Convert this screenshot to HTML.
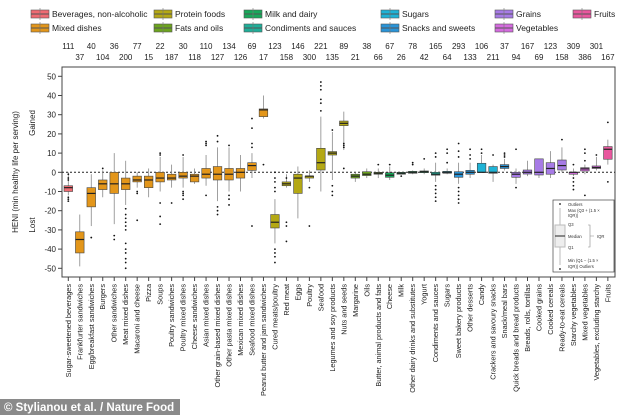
<!DOCTYPE html>
<html><head><meta charset="utf-8"><style>
body{margin:0;background:#fff;width:634px;height:415px;overflow:hidden;font-family:"Liberation Sans",sans-serif}
svg text{font-family:"Liberation Sans",sans-serif}
</style></head><body>
<svg id="s" width="634" height="415" xmlns="http://www.w3.org/2000/svg">
<rect x="62" y="67" width="553" height="210" fill="none" stroke="#444" stroke-width="1"/>
<line x1="62" x2="615" y1="172.3" y2="172.3" stroke="#222" stroke-dasharray="2,2" stroke-width="1"/>
<text transform="translate(18,172) rotate(-90)" font-size="8" text-anchor="middle" fill="#222">HENI (min healthy life per serving)</text>
<text transform="translate(35,123) rotate(-90)" font-size="8" text-anchor="middle" fill="#222">Gained</text>
<text transform="translate(35,225) rotate(-90)" font-size="8" text-anchor="middle" fill="#222">Lost</text>
<rect x="0" y="399" width="180" height="16" fill="#8a8a8a"/>
<text x="4" y="411" font-size="11.5" font-weight="bold" fill="#fff">© Stylianou et al. / Nature Food</text>
<g id="g"></g>
</svg>
<script>
const S=document.getElementById('g');let h='';
const Y=v=>172.3-1.92*v;
for(let v=-50;v<=50;v+=10){h+=`<line x1="58" x2="62" y1="${Y(v)}" y2="${Y(v)}" stroke="#444"/><text x="56" y="${Y(v)+3}" font-size="8" text-anchor="end" fill="#222">${v}</text>`;}
const C={b:'#ef6b72',m:'#e3961a',p:'#b4a814',f:'#6ca41e',d:'#18a85a',c:'#1fae99',s:'#1fb3d6',n:'#2a94d8',g:'#a77be6',v:'#d56bdf',fr:'#e9579e'};
const L=[['#ef6b72','Beverages, non-alcoholic',31,14],['#e3961a','Mixed dishes',31,28],['#b4a814','Protein foods',154,14],['#6ca41e','Fats and oils',154,28],['#18a85a','Milk and dairy',244,14],['#1fae99','Condiments and sauces',244,28],['#1fb3d6','Sugars',381,14],['#2a94d8','Snacks and sweets',381,28],['#a77be6','Grains',495,14],['#d56bdf','Vegetables',495,28],['#e9579e','Fruits',573,14]];
L.forEach(l=>{h+=`<rect x="${l[2]}" y="${l[3]-4}" width="18" height="8" fill="${l[0]}" stroke="#555" stroke-width=".6"/><line x1="${l[2]}" x2="${l[2]+18}" y1="${l[3]}" y2="${l[3]}" stroke="#555"/><line x1="${l[2]+9}" x2="${l[2]+9}" y1="${l[3]-6}" y2="${l[3]+6}" stroke="#777" stroke-width=".6"/><text x="${l[2]+21}" y="${l[3]+3}" font-size="8.5" fill="#222">${l[1]}</text>`;});
// name,color,q1,med,q3,wlo,whi,outliers
const D=[
['Sugar-sweetened beverages','b',-10,-8,-7,-12,0,[-1,-3,-4,-13,-14,-15],111],
['Frankfurter sandwiches','m',-42,-35,-31,-49,-22,[],37],
['Egg/breakfast sandwiches','m',-18,-11,-8,-28,-1,[-34],40],
['Burgers','m',-9,-6,-4,-13,1,[2],104],
['Other sandwiches','m',-11,-6,0,-27,10,[-33,-35],36],
['Meat mixed dishes','m',-9,-6,-3,-17,6,[-19,-22,-24,-26,-28,-30,-37,-40,-42,-45,-47,-50],200],
['Macaroni and cheese','m',-5,-4,-2,-8,0,[-10,-11,-25],77],
['Pizza','m',-8,-4,-2,-13,2,[],15],
['Soups','m',-5,-3,0,-10,8,[9,10,-16,-23,-27],22],
['Poultry sandwiches','m',-4,-3,-1,-8,4,[-16],187],
['Poultry mixed dishes','m',-3,-2,0,-8,8,[9,-10,-11,-12,-14],30],
['Cheese sandwiches','m',-5,-2,-1,-6,2,[],118],
['Asian mixed dishes','m',-3,-1,2,-7,9,[14,15,16,-12],110],
['Other grain-based mixed dishes','m',-4,-1,3,-15,13,[16,19,-18,-20,-22],127],
['Other pasta mixed dishes','m',-4,-1,2,-10,13,[14,-12,-14,-17],134],
['Mexican mixed dishes','m',-3,0,2,-10,9,[],126],
['Seafood mixed dishes','m',1,3.5,5,-3,10,[13,15,23,28,-28],69],
['Peanut butter and jam sandwiches','m',29,32.5,33,28,40,[4],17],
['Cured meats/poultry','p',-29,-26,-22,-37,-14,[0,-3,-5,-8,-10,-40,-42,-44,-47],123],
['Red meat','p',-7,-6,-5,-8,-1,[-3,-26,-28,-36],158],
['Eggs','p',-11,-3,-1,-24,3,[],146],
['Poultry','p',-3,-2,-2,-5,1,[-8,-28],300],
['Seafood','p',1.2,5,12.5,-10,29,[32,36,38,43,45,47],221],
['Legumes and soy products','p',9,10,10.8,-4,21,[22,-7,-10,-12],135],
['Nuts and seeds','p',24.3,25.5,26.7,11.6,31.6,[13,14,15,2],89],
['Margarine','f',-3,-2,-1,-5,0,[],21],
['Oils','f',-1.7,-1,0.3,-3,2,[],38],
['Butter, animal products and fats','f',-1,-0.5,0,-3,2,[4],66],
['Cheese','d',-2.6,-1.5,-0.2,-4,3,[4],67],
['Milk','d',-1,-0.5,0,-1,0,[-2],26],
['Other dairy drinks and substitutes','d',-0.5,0,0.5,-1,1,[4,5],78],
['Yogurt','d',-0.2,0.3,0.7,-1,2,[7],42],
['Condiments and sauces','c',-1.5,-1,0,-5,5,[8,10,-7,-9,-11,-13,-15],165],
['Sugars','s',-0.5,0,0.5,-1,2,[5,10,12],64],
['Sweet bakery products','n',-2.6,-1,0.3,-6,5,[8,11,15,-8,-10,-12,-14,-16],293],
['Other desserts','n',-1,0,1,-3,5,[7,9,12],133],
['Candy','s',0,0,4.7,0,9,[10,12],106],
['Crackers and savoury snacks','s',-0.5,0,3,-5,4,[9],211],
['Snack/meal bars','n',2,3,4,1,7,[8,9,10],37],
['Quick breads and bread products','g',-2.6,-1,0,-6,2,[12,-8],94],
['Breads, rolls, tortillas','g',-0.9,0,1.2,-2,6,[],167],
['Cooked grains','g',-1.4,0,7,-3,7,[],69],
['Cooked cereals','g',-1,2,5,-3,11,[],123],
['Ready-to-eat cereals','g',1.2,3.5,6.4,0,13,[17],158],
['Starchy vegetables','v',-1,0,0,-2,2,[4,-3,-5,-7,-9],309],
['Mixed vegetables','v',0.7,1.8,2.4,-1,4,[6,10,12,-12],386],
['Vegetables, excluding starchy','v',2,2.5,3.3,1,8,[9],301],
['Fruits','fr',6.8,12,13.4,4,17,[26,-5],167]];
D.forEach((d,i)=>{const x=68.3+11.48*i,c=C[d[1]],w=4.3;
h+=`<line x1="${x}" x2="${x}" y1="${Y(d[6])}" y2="${Y(d[5])}" stroke="#888" stroke-width="0.8"/>`;
h+=`<rect x="${x-w}" y="${Y(d[4])}" width="${2*w}" height="${Math.max(1.5,Y(d[2])-Y(d[4]))}" fill="${c}" stroke="#444" stroke-width="0.6"/>`;
h+=`<line x1="${x-w}" x2="${x+w}" y1="${Y(d[3])}" y2="${Y(d[3])}" stroke="#222" stroke-width="1.2"/>`;
d[7].forEach(o=>h+=`<circle cx="${x}" cy="${Y(o)}" r="0.9" fill="#111"/>`);
h+=`<line x1="${x}" x2="${x}" y1="277" y2="281" stroke="#444"/>`;
h+=`<text transform="translate(${x+2.5},284) rotate(-90)" font-size="7.3" text-anchor="end" fill="#222">${d[0]}</text>`;
h+=`<text x="${x}" y="${i%2?60:49}" font-size="8" text-anchor="middle" fill="#222">${d[8]}</text>`;});
// inset legend
h+=`<rect x="553" y="200" width="61" height="72" fill="#fff" stroke="#444" stroke-width=".7"/>
<rect x="555" y="225" width="10" height="22" fill="#eee" stroke="#bbb"/><line x1="555" x2="565" y1="236" y2="236" stroke="#444" stroke-width="1.2"/>
<line x1="560" x2="560" y1="208" y2="225" stroke="#bbb"/><line x1="560" x2="560" y1="247" y2="265" stroke="#bbb"/>
<circle cx="560" cy="204" r="0.9" fill="#111"/><circle cx="560" cy="269" r="0.9" fill="#111"/>
<g font-size="4.2" fill="#333"><text x="568" y="206">Outliers</text><text x="568" y="212">Max (Q3 + (1.5 ×</text><text x="568" y="217">IQR))</text><text x="568" y="226">Q3</text><text x="568" y="238">Median</text><text x="568" y="249">Q1</text><text x="568" y="262">Min (Q1 − (1.5 ×</text><text x="568" y="268">IQR)) Outliers</text><text x="597" y="238">IQR</text></g>
<path d="M588 225 h2 v22 h-2 M590 236 h4" stroke="#888" fill="none" stroke-width=".6"/>`;
S.innerHTML=h;
</script>
</body></html>
